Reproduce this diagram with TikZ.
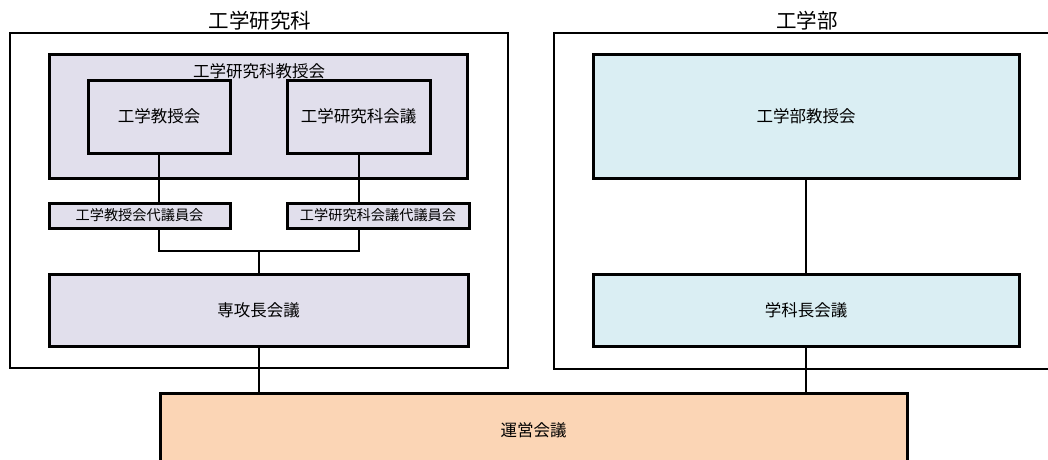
\documentclass[tikz,border=0pt]{standalone}
\usepackage{fontspec}
\newfontfamily\jp{Noto Sans CJK JP}
\definecolor{lav}{HTML}{E1DFEC}
\definecolor{lblue}{HTML}{DAEEF3}
\definecolor{peach}{HTML}{FBD5B5}
\tikzset{
  frame/.style={draw=black, line width=1.5pt, inner sep=0, outer sep=0},
  boxL/.style={draw=black, line width=3pt, fill=lav, inner sep=0, outer sep=0, font=\jp\fontsize{16.5}{18}\selectfont},
  boxB/.style={draw=black, line width=3pt, fill=lblue, inner sep=0, outer sep=0, font=\jp\fontsize{16.5}{18}\selectfont},
  boxP/.style={draw=black, line width=3pt, fill=peach, inner sep=0, outer sep=0, font=\jp\fontsize{16.5}{18}\selectfont},
  smallL/.style={boxL, font=\jp\fontsize{14.2}{16}\selectfont},
  ttl/.style={inner sep=0, font=\jp\fontsize{20.5}{22}\selectfont},
  lbl/.style={inner sep=0, font=\jp\fontsize{16.5}{18}\selectfont},
  conn/.style={draw=black, line width=2pt}
}
\begin{document}
\begin{tikzpicture}[x=1pt,y=-1pt]
\clip (0,0) rectangle (1048,459);
\fill[white] (0,0) rectangle (1048,459);
% frames
\node[frame, minimum width=498, minimum height=335] (gf) at (259,200.5) {};
\node[ttl] (gft) at (260,21) {工学研究科};
\node[frame, minimum width=516, minimum height=336] (ef) at (812,201) {};
\node[ttl] (eft) at (807,21) {工学部};
% graduate school
\node[boxL, minimum width=418, minimum height=124] (kk) at (258,116) {};
\node[lbl] (kkl) at (259,71) {工学研究科教授会};
\node[boxL, minimum width=142, minimum height=73] (k1) at (159,116.5) {工学教授会};
\node[boxL, minimum width=143, minimum height=73] (k2) at (358.5,116.5) {工学研究科会議};
\node[smallL, minimum width=181, minimum height=25] (d1) at (139.5,215.5) {工学教授会代議員会};
\node[smallL, minimum width=182, minimum height=25] (d2) at (378,215.5) {工学研究科会議代議員会};
\node[boxL, minimum width=419, minimum height=72] (sc) at (258.5,310) {専攻長会議};
% faculty
\node[boxB, minimum width=426, minimum height=124] (ek) at (806,116) {工学部教授会};
\node[boxB, minimum width=426, minimum height=72] (gk) at (806,310) {学科長会議};
% management
\node[boxP, minimum width=747, minimum height=74] (un) at (533.5,430) {運営会議};
% connectors
\coordinate (j) at (259,251);
\draw[conn] (k1.south) -- (k1.south |- d1.north);
\draw[conn] (k2.south) -- (k2.south |- d2.north);
\draw[conn] (k1.south |- d1.south) |- (j) -| (k2.south |- d2.south);
\draw[conn] (j) -- (j |- sc.north);
\draw[conn] (sc.south) -- (sc.south |- un.north);
\draw[conn] (ek.south) -- (gk.north);
\draw[conn] (gk.south) -- (gk.south |- un.north);
\end{tikzpicture}
\end{document}
